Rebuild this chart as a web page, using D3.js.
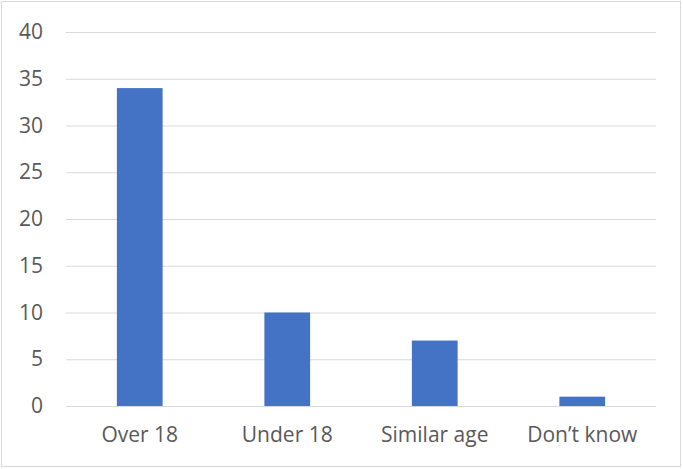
<!DOCTYPE html>
<html><head><meta charset="utf-8">
<script src="https://cdn.jsdelivr.net/npm/d3@7"></script>
<style>body{margin:0;background:#fff}svg{display:block}</style>
</head><body><svg id="c" width="683" height="469"></svg>
<script>
const categories = ["Over 18", "Under 18", "Similar age", "Don\u2019t know"];
const values = [34, 10, 7, 1];
const yTicks = [0, 5, 10, 15, 20, 25, 30, 35, 40];

const svg = d3.select("#c");
const W = 683, H = 469;
const L = 66, R = 656, T = 32, B = 406;
const font = "'Open Sans', sans-serif";

svg.append("rect").attr("x", 1.5).attr("y", 1.5).attr("width", W - 4).attr("height", H - 4)
  .attr("fill", "#fff").attr("stroke", "#d9d9d9").attr("stroke-width", 1);

const x = d3.scaleBand().domain(categories).range([L, R]).padding(0);
const y = d3.scaleLinear().domain([0, 40]).range([B, T]);

const yAxis = d3.axisLeft(y).tickValues(yTicks).tickSize(-(R - L)).tickPadding(23);
const gy = svg.append("g").attr("transform", `translate(${L},0)`).call(yAxis);
gy.select(".domain").remove();
gy.selectAll(".tick line").attr("stroke", "#d9d9d9").attr("stroke-width", 1);
gy.selectAll(".tick text").attr("fill", "#595959").attr("font-family", font).attr("font-size", 21);

const bw = x.step() * 0.31;
svg.append("g").selectAll("rect").data(values).join("rect")
  .attr("x", (d, i) => x(categories[i]) + x.bandwidth() / 2 - bw / 2)
  .attr("y", d => y(d))
  .attr("width", bw)
  .attr("height", d => y(0) - y(d))
  .attr("fill", "#4472c4");

const xAxis = d3.axisBottom(x).tickSize(0).tickPadding(21);
const gx = svg.append("g").attr("transform", `translate(0,${B})`).call(xAxis);
gx.select(".domain").remove();
gx.selectAll(".tick text").attr("fill", "#595959").attr("font-family", font).attr("font-size", 21);
</script></body></html>
